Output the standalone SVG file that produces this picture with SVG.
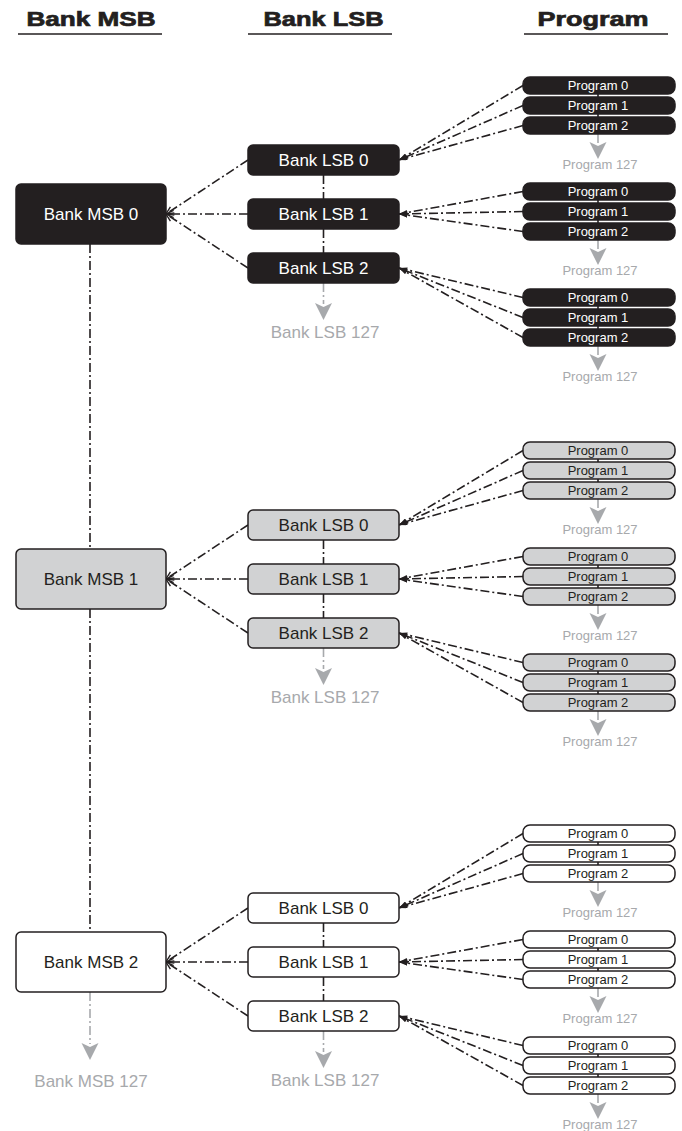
<svg xmlns="http://www.w3.org/2000/svg" width="682" height="1131" viewBox="0 0 682 1131">
<defs>
<style>
text{font-family:"Liberation Sans",Arial,sans-serif}
.hd{font-size:20px;font-weight:900;fill:#231f20;stroke:#231f20;stroke-width:0.7;text-anchor:middle}
.ul{stroke:#231f20;stroke-width:1.5}
.nb{fill:#231f20;stroke:#231f20;stroke-width:1.5}
.ng{fill:#d1d2d3;stroke:#231f20;stroke-width:1.5}
.nw{fill:#ffffff;stroke:#231f20;stroke-width:1.5}
.tb{font-size:17px;fill:#ffffff;text-anchor:middle}
.td{font-size:17px;fill:#231f20;text-anchor:middle}
.pb{font-size:13px;fill:#ffffff;text-anchor:middle}
.pd{font-size:13px;fill:#231f20;text-anchor:middle}
.gl{font-size:17px;fill:#a7a9ac;text-anchor:middle}
.gs{font-size:13px;fill:#a7a9ac;text-anchor:middle}
.c{stroke:#231f20;stroke-width:1.6;fill:none;stroke-dasharray:9 3 2 3}
.cg{stroke:#a7a9ac;stroke-width:1.6;fill:none;stroke-dasharray:9 3 2 3}
.ah{fill:#a7a9ac}
</style>
<marker id="fa" viewBox="0 0 10 6" refX="10" refY="3" markerWidth="9" markerHeight="5" markerUnits="userSpaceOnUse" orient="auto"><path d="M0,0 L10,3 L0,6 z" fill="#231f20"/></marker>
<marker id="oa" viewBox="0 0 10 10" refX="9.5" refY="5" markerWidth="9" markerHeight="9" markerUnits="userSpaceOnUse" orient="auto"><path d="M1,1 L9.5,5 L1,9" fill="none" stroke="#231f20" stroke-width="1.5"/></marker>
<path id="garrow" d="M-8.5,0 L0,4 L8.5,0 L0,17 z" class="ah"/>
</defs>
<rect width="682" height="1131" fill="#ffffff"/>

<g id="headers">
<text class="hd" x="91" y="26" textLength="129" lengthAdjust="spacingAndGlyphs">Bank MSB</text>
<line class="ul" x1="18" y1="34" x2="162" y2="34"/>
<text class="hd" x="323.5" y="26" textLength="120" lengthAdjust="spacingAndGlyphs">Bank LSB</text>
<line class="ul" x1="248" y1="34" x2="392" y2="34"/>
<text class="hd" x="593" y="26" textLength="111" lengthAdjust="spacingAndGlyphs">Program</text>
<line class="ul" x1="524" y1="34" x2="668" y2="34"/>
</g>

<g id="connectors">
<line class="c" x1="90" y1="244" x2="90" y2="549"/>
<line class="c" x1="90" y1="609" x2="90" y2="932"/>
<line class="cg" x1="90" y1="992" x2="90" y2="1044"/>
<use href="#garrow" x="90" y="1043"/>
<line class="c" x1="248" y1="160" x2="166" y2="214" marker-end="url(#oa)"/>
<line class="c" x1="248" y1="214" x2="166" y2="214" marker-end="url(#oa)"/>
<line class="c" x1="248" y1="268" x2="166" y2="214" marker-end="url(#oa)"/>
<line class="c" x1="323.5" y1="175" x2="323.5" y2="199"/>
<line class="c" x1="323.5" y1="229" x2="323.5" y2="253"/>
<line class="cg" x1="323.5" y1="283" x2="323.5" y2="304"/>
<use href="#garrow" x="323.5" y="303"/>
<line class="c" x1="248" y1="525" x2="166" y2="579" marker-end="url(#oa)"/>
<line class="c" x1="248" y1="579" x2="166" y2="579" marker-end="url(#oa)"/>
<line class="c" x1="248" y1="633" x2="166" y2="579" marker-end="url(#oa)"/>
<line class="c" x1="323.5" y1="540" x2="323.5" y2="564"/>
<line class="c" x1="323.5" y1="594" x2="323.5" y2="618"/>
<line class="cg" x1="323.5" y1="648" x2="323.5" y2="669"/>
<use href="#garrow" x="323.5" y="668"/>
<line class="c" x1="248" y1="908" x2="166" y2="962" marker-end="url(#oa)"/>
<line class="c" x1="248" y1="962" x2="166" y2="962" marker-end="url(#oa)"/>
<line class="c" x1="248" y1="1016" x2="166" y2="962" marker-end="url(#oa)"/>
<line class="c" x1="323.5" y1="923" x2="323.5" y2="947"/>
<line class="c" x1="323.5" y1="977" x2="323.5" y2="1001"/>
<line class="cg" x1="323.5" y1="1031" x2="323.5" y2="1052"/>
<use href="#garrow" x="323.5" y="1051"/>

<line class="c" x1="523" y1="85.5" x2="399" y2="160" marker-end="url(#fa)"/>
<line class="c" x1="523" y1="105.5" x2="399" y2="160" marker-end="url(#fa)"/>
<line class="c" x1="523" y1="125.5" x2="399" y2="160" marker-end="url(#fa)"/>
<line class="c" x1="523" y1="191.5" x2="399" y2="214" marker-end="url(#fa)"/>
<line class="c" x1="523" y1="211.5" x2="399" y2="214" marker-end="url(#fa)"/>
<line class="c" x1="523" y1="231.5" x2="399" y2="214" marker-end="url(#fa)"/>
<line class="c" x1="523" y1="297.5" x2="399" y2="268" marker-end="url(#fa)"/>
<line class="c" x1="523" y1="317.5" x2="399" y2="268" marker-end="url(#fa)"/>
<line class="c" x1="523" y1="337.5" x2="399" y2="268" marker-end="url(#fa)"/>
<line class="c" x1="523" y1="450.5" x2="399" y2="525" marker-end="url(#fa)"/>
<line class="c" x1="523" y1="470.5" x2="399" y2="525" marker-end="url(#fa)"/>
<line class="c" x1="523" y1="490.5" x2="399" y2="525" marker-end="url(#fa)"/>
<line class="c" x1="523" y1="556.5" x2="399" y2="579" marker-end="url(#fa)"/>
<line class="c" x1="523" y1="576.5" x2="399" y2="579" marker-end="url(#fa)"/>
<line class="c" x1="523" y1="596.5" x2="399" y2="579" marker-end="url(#fa)"/>
<line class="c" x1="523" y1="662.5" x2="399" y2="633" marker-end="url(#fa)"/>
<line class="c" x1="523" y1="682.5" x2="399" y2="633" marker-end="url(#fa)"/>
<line class="c" x1="523" y1="702.5" x2="399" y2="633" marker-end="url(#fa)"/>
<line class="c" x1="523" y1="833.5" x2="399" y2="908" marker-end="url(#fa)"/>
<line class="c" x1="523" y1="853.5" x2="399" y2="908" marker-end="url(#fa)"/>
<line class="c" x1="523" y1="873.5" x2="399" y2="908" marker-end="url(#fa)"/>
<line class="c" x1="523" y1="939.5" x2="399" y2="962" marker-end="url(#fa)"/>
<line class="c" x1="523" y1="959.5" x2="399" y2="962" marker-end="url(#fa)"/>
<line class="c" x1="523" y1="979.5" x2="399" y2="962" marker-end="url(#fa)"/>
<line class="c" x1="523" y1="1045.5" x2="399" y2="1016" marker-end="url(#fa)"/>
<line class="c" x1="523" y1="1065.5" x2="399" y2="1016" marker-end="url(#fa)"/>
<line class="c" x1="523" y1="1085.5" x2="399" y2="1016" marker-end="url(#fa)"/>

<g id="prog-links">
<line class="c" x1="598" y1="94" x2="598" y2="97"/><line class="c" x1="598" y1="114" x2="598" y2="117"/>
<line class="cg" x1="598" y1="134" x2="598" y2="143"/><use href="#garrow" x="598" y="142"/>
<line class="c" x1="598" y1="200" x2="598" y2="203"/><line class="c" x1="598" y1="220" x2="598" y2="223"/>
<line class="cg" x1="598" y1="240" x2="598" y2="249"/><use href="#garrow" x="598" y="248"/>
<line class="c" x1="598" y1="306" x2="598" y2="309"/><line class="c" x1="598" y1="326" x2="598" y2="329"/>
<line class="cg" x1="598" y1="346" x2="598" y2="355"/><use href="#garrow" x="598" y="354"/>
<line class="c" x1="598" y1="459" x2="598" y2="462"/><line class="c" x1="598" y1="479" x2="598" y2="482"/>
<line class="cg" x1="598" y1="499" x2="598" y2="508"/><use href="#garrow" x="598" y="507"/>
<line class="c" x1="598" y1="565" x2="598" y2="568"/><line class="c" x1="598" y1="585" x2="598" y2="588"/>
<line class="cg" x1="598" y1="605" x2="598" y2="614"/><use href="#garrow" x="598" y="613"/>
<line class="c" x1="598" y1="671" x2="598" y2="674"/><line class="c" x1="598" y1="691" x2="598" y2="694"/>
<line class="cg" x1="598" y1="711" x2="598" y2="720"/><use href="#garrow" x="598" y="719"/>
<line class="c" x1="598" y1="842" x2="598" y2="845"/><line class="c" x1="598" y1="862" x2="598" y2="865"/>
<line class="cg" x1="598" y1="882" x2="598" y2="891"/><use href="#garrow" x="598" y="890"/>
<line class="c" x1="598" y1="948" x2="598" y2="951"/><line class="c" x1="598" y1="968" x2="598" y2="971"/>
<line class="cg" x1="598" y1="988" x2="598" y2="997"/><use href="#garrow" x="598" y="996"/>
<line class="c" x1="598" y1="1054" x2="598" y2="1057"/><line class="c" x1="598" y1="1074" x2="598" y2="1077"/>
<line class="cg" x1="598" y1="1094" x2="598" y2="1103"/><use href="#garrow" x="598" y="1102"/>
</g>
</g>

<g id="msb-0"><rect class="nb" x="16" y="184" width="150" height="60" rx="5"/><text class="tb" x="91" y="220">Bank MSB 0</text></g>
<g id="msb-1"><rect class="ng" x="16" y="549" width="150" height="60" rx="5"/><text class="td" x="91" y="585">Bank MSB 1</text></g>
<g id="msb-2"><rect class="nw" x="16" y="932" width="150" height="60" rx="5"/><text class="td" x="91" y="968">Bank MSB 2</text></g>
<g id="msb-127"><text class="gl" x="91" y="1087">Bank MSB 127</text></g>

<g id="lsb-0-0"><rect class="nb" x="248" y="145" width="151" height="30" rx="5"/><text class="tb" x="323.5" y="166">Bank LSB 0</text></g>
<g id="lsb-0-1"><rect class="nb" x="248" y="199" width="151" height="30" rx="5"/><text class="tb" x="323.5" y="220">Bank LSB 1</text></g>
<g id="lsb-0-2"><rect class="nb" x="248" y="253" width="151" height="30" rx="5"/><text class="tb" x="323.5" y="274">Bank LSB 2</text></g>
<g id="lsb-0-127"><text class="gl" x="325" y="338">Bank LSB 127</text></g>

<g id="lsb-1-0"><rect class="ng" x="248" y="510" width="151" height="30" rx="5"/><text class="td" x="323.5" y="531">Bank LSB 0</text></g>
<g id="lsb-1-1"><rect class="ng" x="248" y="564" width="151" height="30" rx="5"/><text class="td" x="323.5" y="585">Bank LSB 1</text></g>
<g id="lsb-1-2"><rect class="ng" x="248" y="618" width="151" height="30" rx="5"/><text class="td" x="323.5" y="639">Bank LSB 2</text></g>
<g id="lsb-1-127"><text class="gl" x="325" y="703">Bank LSB 127</text></g>

<g id="lsb-2-0"><rect class="nw" x="248" y="893" width="151" height="30" rx="5"/><text class="td" x="323.5" y="914">Bank LSB 0</text></g>
<g id="lsb-2-1"><rect class="nw" x="248" y="947" width="151" height="30" rx="5"/><text class="td" x="323.5" y="968">Bank LSB 1</text></g>
<g id="lsb-2-2"><rect class="nw" x="248" y="1001" width="151" height="30" rx="5"/><text class="td" x="323.5" y="1022">Bank LSB 2</text></g>
<g id="lsb-2-127"><text class="gl" x="325" y="1086">Bank LSB 127</text></g>

<g id="p-0-0-0"><rect class="nb" x="523" y="77" width="152" height="17" rx="7"/><text class="pb" x="598" y="90">Program 0</text></g>
<g id="p-0-0-1"><rect class="nb" x="523" y="97" width="152" height="17" rx="7"/><text class="pb" x="598" y="110">Program 1</text></g>
<g id="p-0-0-2"><rect class="nb" x="523" y="117" width="152" height="17" rx="7"/><text class="pb" x="598" y="130">Program 2</text></g>
<g id="p-0-0-127"><text class="gs" x="600" y="169">Program 127</text></g>
<g id="p-0-1-0"><rect class="nb" x="523" y="183" width="152" height="17" rx="7"/><text class="pb" x="598" y="196">Program 0</text></g>
<g id="p-0-1-1"><rect class="nb" x="523" y="203" width="152" height="17" rx="7"/><text class="pb" x="598" y="216">Program 1</text></g>
<g id="p-0-1-2"><rect class="nb" x="523" y="223" width="152" height="17" rx="7"/><text class="pb" x="598" y="236">Program 2</text></g>
<g id="p-0-1-127"><text class="gs" x="600" y="275">Program 127</text></g>
<g id="p-0-2-0"><rect class="nb" x="523" y="289" width="152" height="17" rx="7"/><text class="pb" x="598" y="302">Program 0</text></g>
<g id="p-0-2-1"><rect class="nb" x="523" y="309" width="152" height="17" rx="7"/><text class="pb" x="598" y="322">Program 1</text></g>
<g id="p-0-2-2"><rect class="nb" x="523" y="329" width="152" height="17" rx="7"/><text class="pb" x="598" y="342">Program 2</text></g>
<g id="p-0-2-127"><text class="gs" x="600" y="381">Program 127</text></g>

<g id="p-1-0-0"><rect class="ng" x="523" y="442" width="152" height="17" rx="7"/><text class="pd" x="598" y="455">Program 0</text></g>
<g id="p-1-0-1"><rect class="ng" x="523" y="462" width="152" height="17" rx="7"/><text class="pd" x="598" y="475">Program 1</text></g>
<g id="p-1-0-2"><rect class="ng" x="523" y="482" width="152" height="17" rx="7"/><text class="pd" x="598" y="495">Program 2</text></g>
<g id="p-1-0-127"><text class="gs" x="600" y="534">Program 127</text></g>
<g id="p-1-1-0"><rect class="ng" x="523" y="548" width="152" height="17" rx="7"/><text class="pd" x="598" y="561">Program 0</text></g>
<g id="p-1-1-1"><rect class="ng" x="523" y="568" width="152" height="17" rx="7"/><text class="pd" x="598" y="581">Program 1</text></g>
<g id="p-1-1-2"><rect class="ng" x="523" y="588" width="152" height="17" rx="7"/><text class="pd" x="598" y="601">Program 2</text></g>
<g id="p-1-1-127"><text class="gs" x="600" y="640">Program 127</text></g>
<g id="p-1-2-0"><rect class="ng" x="523" y="654" width="152" height="17" rx="7"/><text class="pd" x="598" y="667">Program 0</text></g>
<g id="p-1-2-1"><rect class="ng" x="523" y="674" width="152" height="17" rx="7"/><text class="pd" x="598" y="687">Program 1</text></g>
<g id="p-1-2-2"><rect class="ng" x="523" y="694" width="152" height="17" rx="7"/><text class="pd" x="598" y="707">Program 2</text></g>
<g id="p-1-2-127"><text class="gs" x="600" y="746">Program 127</text></g>

<g id="p-2-0-0"><rect class="nw" x="523" y="825" width="152" height="17" rx="7"/><text class="pd" x="598" y="838">Program 0</text></g>
<g id="p-2-0-1"><rect class="nw" x="523" y="845" width="152" height="17" rx="7"/><text class="pd" x="598" y="858">Program 1</text></g>
<g id="p-2-0-2"><rect class="nw" x="523" y="865" width="152" height="17" rx="7"/><text class="pd" x="598" y="878">Program 2</text></g>
<g id="p-2-0-127"><text class="gs" x="600" y="917">Program 127</text></g>
<g id="p-2-1-0"><rect class="nw" x="523" y="931" width="152" height="17" rx="7"/><text class="pd" x="598" y="944">Program 0</text></g>
<g id="p-2-1-1"><rect class="nw" x="523" y="951" width="152" height="17" rx="7"/><text class="pd" x="598" y="964">Program 1</text></g>
<g id="p-2-1-2"><rect class="nw" x="523" y="971" width="152" height="17" rx="7"/><text class="pd" x="598" y="984">Program 2</text></g>
<g id="p-2-1-127"><text class="gs" x="600" y="1023">Program 127</text></g>
<g id="p-2-2-0"><rect class="nw" x="523" y="1037" width="152" height="17" rx="7"/><text class="pd" x="598" y="1050">Program 0</text></g>
<g id="p-2-2-1"><rect class="nw" x="523" y="1057" width="152" height="17" rx="7"/><text class="pd" x="598" y="1070">Program 1</text></g>
<g id="p-2-2-2"><rect class="nw" x="523" y="1077" width="152" height="17" rx="7"/><text class="pd" x="598" y="1090">Program 2</text></g>
<g id="p-2-2-127"><text class="gs" x="600" y="1129">Program 127</text></g>
</svg>
